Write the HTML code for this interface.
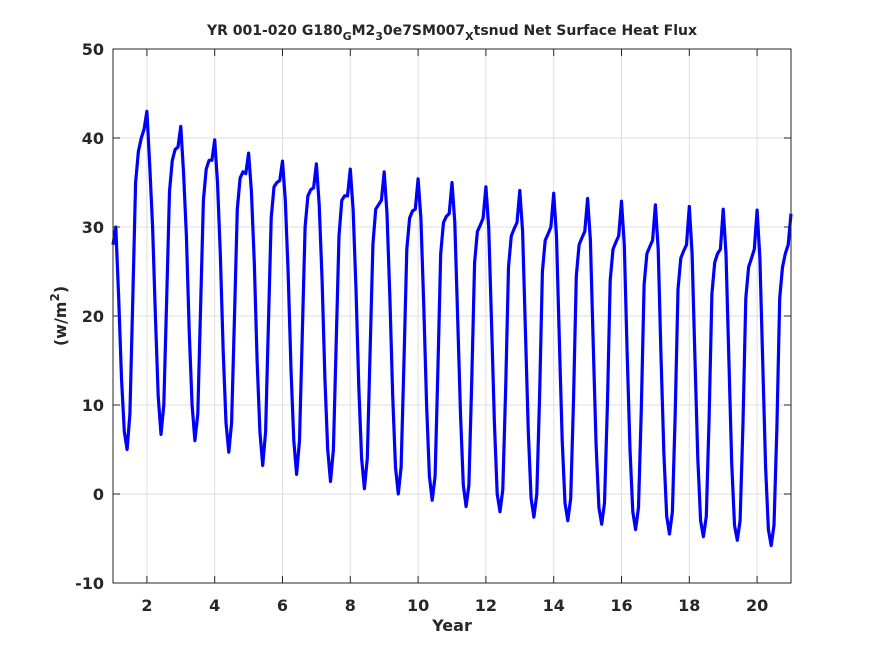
<!DOCTYPE html>
<html><head><meta charset="utf-8"><style>
body{margin:0;background:#fff}
svg{display:block;font-family:"DejaVu Sans","Liberation Sans",sans-serif;font-weight:bold;fill:#262626}
</style></head><body>
<svg width="875" height="656" viewBox="0 0 875 656">
<rect x="0" y="0" width="875" height="656" fill="#fff"/>
<g id="grid"></g>
<g id="series"></g>
<rect x="113" y="49" width="678" height="534" fill="none" stroke="#262626" stroke-width="1"/>
<g id="ticks"></g>
<text x="452" y="35" text-anchor="middle" font-size="14">YR 001-020 G180<tspan font-size="11" dy="5">G</tspan><tspan dy="-5">M2</tspan><tspan font-size="11" dy="5">3</tspan><tspan dy="-5">0e7SM007</tspan><tspan font-size="11" dy="5">X</tspan><tspan dy="-5">tsnud Net Surface Heat Flux</tspan></text>
<text x="452" y="631" text-anchor="middle" font-size="16">Year</text>
<text transform="translate(66,316) rotate(-90)" text-anchor="middle" font-size="16">(w/m<tspan font-size="12" dy="-7">2</tspan><tspan dy="7">)</tspan></text>
</svg>
<script>
const xTicks=[2,4,6,8,10,12,14,16,18,20];
const yTicks=[-10,0,10,20,30,40,50];
const startVal=[28];
const fluxValues=[
30,22,13,7,5,9,22,35,38.5,40,41,43,
37,30,20,11,6.7,10,22,34,37.5,38.7,39,41.3,
36,29,18,10,6,9,21,33,36.5,37.5,37.5,39.8,
35,27,16,8,4.7,8,20,32,35.5,36.2,36,38.3,
34,26,15,7,3.2,7,19,31,34.5,35,35.2,37.4,
33,25,14,6,2.2,6,18,30,33.5,34.2,34.4,37.1,
32.5,24,13,5,1.4,5,17,29,33,33.5,33.5,36.5,
32,23,12,4,0.6,4,16,28,32,32.5,33,36.2,
31.5,22,11,3,0,3,15,27.5,31,31.8,32,35.4,
31,21,10,2,-0.7,2,14,27,30.5,31.2,31.5,35,
30.5,20,9,1,-1.4,1,13,26,29.5,30.2,31,34.5,
30,19,8,0,-2,0.5,12,25.5,29,29.8,30.5,34.1,
29.5,18,7,-0.5,-2.6,0,11,25,28.5,29.2,30,33.8,
29,17,6,-1,-3,-0.5,10.5,24.5,28,28.8,29.5,33.2,
28.5,16.5,5.5,-1.5,-3.4,-1,10,24,27.5,28.3,29,32.9,
28,16,5,-2,-4,-1.5,9.5,23.5,27,27.8,28.5,32.5,
27.5,15.5,4.5,-2.5,-4.5,-2,9,23,26.5,27.3,28,32.3,
27,15,4,-3,-4.8,-2.5,8.5,22.5,26,27,27.5,32,
27,15,3.5,-3.5,-5.2,-3,8,22,25.5,26.5,27.5,31.9,
26.5,14.5,3,-4,-5.8,-3.5,7.5,22,25.5,27,28,31.5];
const X0=113,X1=791,Y0=583,Y1=49;
function xs(v){return X0+(v-1)/20*(X1-X0);}
function ys(v){return Y0-(v+10)/60*(Y0-Y1);}
const NS="http://www.w3.org/2000/svg";
const grid=document.getElementById('grid'),ticks=document.getElementById('ticks'),series=document.getElementById('series');
function mk(tag,attrs,parent){const e=document.createElementNS(NS,tag);for(const k in attrs)e.setAttribute(k,attrs[k]);parent.appendChild(e);return e;}
xTicks.forEach(t=>{
 const g=mk('line',{x1:xs(t),x2:xs(t),y1:Y1,y2:Y0,stroke:'#dfdfdf','stroke-width':1},grid);
 
 
 const a=mk('line',{x1:xs(t),x2:xs(t),y1:Y0,y2:Y0-7,stroke:'#262626'},ticks);
 
 
 const b=mk('line',{x1:xs(t),x2:xs(t),y1:Y1,y2:Y1+7,stroke:'#262626'},ticks);
 
 
 const l=mk('text',{x:xs(t),y:611,'text-anchor':'middle','font-size':16},ticks);
 l.textContent=t;
 
 
});
yTicks.forEach(t=>{
 if(t>-10&&t<50){const g=mk('line',{x1:X0,x2:X1,y1:ys(t),y2:ys(t),stroke:'#dfdfdf','stroke-width':1},grid);
 
 }
 const a=mk('line',{x1:X0,x2:X0+7,y1:ys(t),y2:ys(t),stroke:'#262626'},ticks);
 
 
 const b=mk('line',{x1:X1,x2:X1-7,y1:ys(t),y2:ys(t),stroke:'#262626'},ticks);
 
 
 const l=mk('text',{x:104,y:ys(t)+6,'text-anchor':'end','font-size':16},ticks);
 l.textContent=t;
 
 
});
const vals=startVal.concat(fluxValues);
const pts=vals.map((v,i)=>xs(1+i/12).toFixed(1)+','+ys(v).toFixed(1)).join(' ');
const pl=mk('polyline',{points:pts,fill:'none',stroke:'#0000ff','stroke-width':3.2,'stroke-linejoin':'round'},series);


</script>
</body></html>
